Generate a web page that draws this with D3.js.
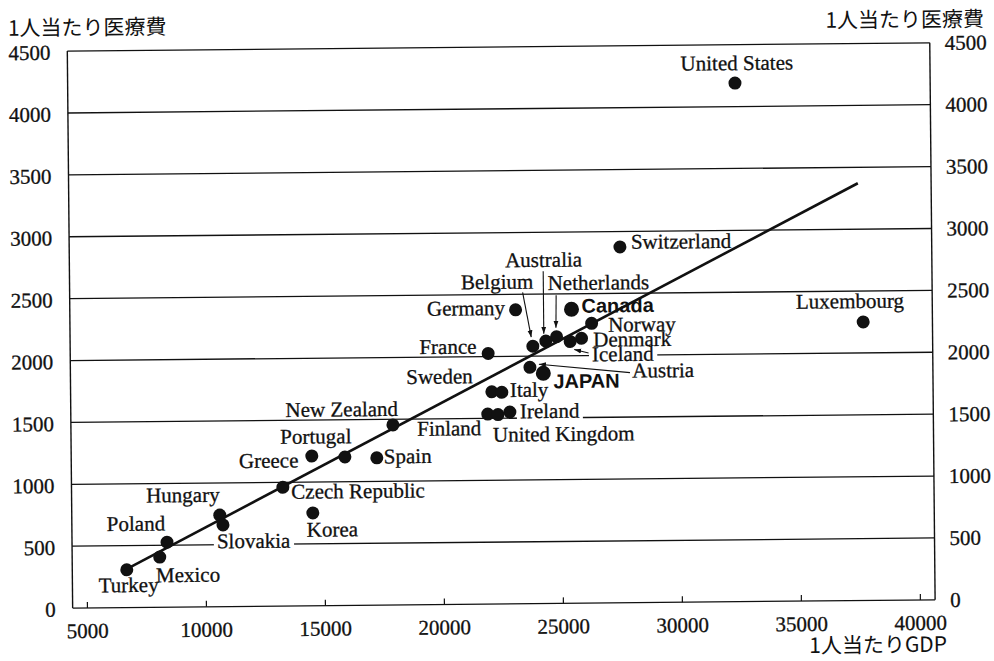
<!DOCTYPE html>
<html>
<head>
<meta charset="utf-8">
<script src="https://cdn.jsdelivr.net/npm/d3@7"></script>
<style>
  html, body { margin: 0; padding: 0; background: #fff; }
  svg { display: block; }
</style>
</head>
<body>
<svg id="chart" width="994" height="661"></svg>
<script>
// Per-capita GDP and per-capita health spending (US$ PPP), OECD countries
const countries = [
  "United States", "Switzerland", "Luxembourg", "Canada", "Germany", "Norway",
  "Netherlands", "Denmark", "Iceland", "Australia", "Belgium", "France",
  "Austria", "JAPAN", "Sweden", "Italy", "Ireland", "Finland", "United Kingdom",
  "New Zealand", "Portugal", "Spain", "Greece", "Czech Republic", "Korea",
  "Hungary", "Slovakia", "Poland", "Mexico", "Turkey"
];
const gdpPerCapita = [
  32440, 27540, 37730, 25480, 23130, 26320,
  24840, 25890, 25410, 24390, 23840, 21960,
  23710, 24270, 22100, 22520, 22850, 21920, 22350,
  17930, 15900, 17240, 14510, 13280, 14530,
  10620, 10750, 8390, 8080, 6690
];
const healthPerCapita = [
  4190, 2875, 2250, 2375, 2375, 2260,
  2155, 2140, 2115, 2120, 2080, 2025,
  1910, 1860, 1715, 1710, 1550, 1535, 1530,
  1455, 1200, 1190, 1210, 960, 750,
  740, 660, 525, 405, 305
];
const highlighted = ["Canada", "JAPAN"];

// Least-squares line through the points
const fitSlope = 0.0991;
const fitIntercept = -351;
const fitRange = [6600, 37560];

const yTicks = [0, 500, 1000, 1500, 2000, 2500, 3000, 3500, 4000, 4500];
const xTicks = [5000, 10000, 15000, 20000, 25000, 30000, 35000, 40000];
const yTitle = "1人当たり医療費";
const xTitle = "1人当たりGDP";

// Label placement relative to each dot (px): offset, anchor, leader line, knockout
const labelLayout = {
  "United States":  { dx: 2,     dy: -13,   anchor: "middle" },
  "Switzerland":    { dx: 11,    dy: 2,     anchor: "start" },
  "Luxembourg":     { dx: -13,   dy: -14,   anchor: "middle" },
  "Canada":         { dx: 10,    dy: 3.5,   anchor: "start" },
  "Germany":        { dx: -10.5, dy: 5,     anchor: "end" },
  "Norway":         { dx: 16.5,  dy: 8.5,   anchor: "start" },
  "Netherlands":    { dx: -8.4,  dy: -46.7, anchor: "start", leader: [0, -41.5, -0.5, -9] },
  "Denmark":        { dx: 11.6,  dy: 8.4,   anchor: "start" },
  "Iceland":        { dx: 21.7,  dy: 20,    anchor: "start", leader: [18.3, 11.6, 4, 8], knockout: true },
  "Australia":      { dx: -40,   dy: -74.3, anchor: "start", leader: [-2, -70, -2, -7.5] },
  "Belgium":        { dx: -71.3, dy: -57.7, anchor: "start", leader: [-9.7, -54, -1.5, -9] },
  "France":         { dx: -11.6, dy: 0,     anchor: "end" },
  "Austria":        { dx: 102.3, dy: 11.3,  anchor: "start", leader: [100, 6.3, 9, -3] },
  "JAPAN":          { dx: 10,    dy: 15,    anchor: "start" },
  "Sweden":         { dx: -19,   dy: -8.7,  anchor: "end" },
  "Italy":          { dx: 8,     dy: 4.7,   anchor: "start" },
  "Ireland":        { dx: 10,    dy: 6.3,   anchor: "start", knockout: true },
  "Finland":        { dx: -6.6,  dy: 21,    anchor: "end" },
  "United Kingdom": { dx: -5.3,  dy: 27,    anchor: "start" },
  "New Zealand":    { dx: 5.3,   dy: -9,    anchor: "end" },
  "Portugal":       { dx: 6.7,   dy: -13.7, anchor: "end" },
  "Spain":          { dx: 7,     dy: 5.6,   anchor: "start" },
  "Greece":         { dx: -13.4, dy: 11.3,  anchor: "end" },
  "Czech Republic": { dx: 8.4,   dy: 11.6,  anchor: "start" },
  "Korea":          { dx: -6.3,  dy: 23.7,  anchor: "start" },
  "Hungary":        { dx: 0,     dy: -13.3, anchor: "end" },
  "Slovakia":       { dx: -6.3,  dy: 23.3,  anchor: "start", knockout: true },
  "Poland":         { dx: -1.7,  dy: -11.7, anchor: "end" },
  "Mexico":         { dx: -4,    dy: 25,    anchor: "start" },
  "Turkey":         { dx: 1.7,   dy: 22.3,  anchor: "middle" }
};

const points = countries.map((name, i) => ({
  name, gdp: gdpPerCapita[i], cost: healthPerCapita[i],
  strong: highlighted.includes(name)
}));

const svg = d3.select("#chart");
const plot = { left: 70, right: 932.5, top: 47, bottom: 604 };

const x = d3.scaleLinear().domain([4400, 40640]).range([plot.left, plot.right]);
const y = d3.scaleLinear().domain([0, 4500]).range([plot.bottom, plot.top]);

const serif = "'Liberation Serif', 'Times New Roman', serif";
const sans = "'Liberation Sans', Arial, sans-serif";
const cjk = "'Noto Sans CJK JP', sans-serif";
const ink = "#111";

// Slightly heavier serif lettering
function heavy(sel) {
  return sel.attr("stroke", ink).attr("stroke-width", 0.3);
}

// The whole sheet sits at a slight tilt
const root = svg.append("g").attr("transform", "rotate(-0.55 497 330)");

// Horizontal grid lines at every tick
root.append("g").selectAll("line").data(yTicks).join("line")
  .attr("x1", plot.left).attr("x2", plot.right)
  .attr("y1", d => y(d)).attr("y2", d => y(d))
  .attr("stroke", ink).attr("stroke-width", 1.3);

// Left and right frame
root.append("g").selectAll("line").data([plot.left, plot.right]).join("line")
  .attr("x1", d => d).attr("x2", d => d)
  .attr("y1", plot.top).attr("y2", plot.bottom)
  .attr("stroke", ink).attr("stroke-width", 1.4);

// Bottom axis: inward ticks and labels
const xAxis = d3.axisBottom(x).tickValues(xTicks).tickSizeInner(-6).tickSizeOuter(0)
  .tickPadding(16).tickFormat(d3.format("d"));
const gx = root.append("g").attr("transform", `translate(0,${plot.bottom})`).call(xAxis);
gx.select(".domain").remove();
gx.selectAll(".tick line").attr("stroke", ink).attr("stroke-width", 1.2);
heavy(gx.selectAll(".tick text").attr("font-family", serif).attr("font-size", 21)
  .attr("fill", ink).attr("dy", null).attr("y", 30));

// Value labels on both sides
const yAxisL = d3.axisLeft(y).tickValues(yTicks).tickSize(0).tickPadding(17).tickFormat(d3.format("d"));
const gyl = root.append("g").attr("transform", `translate(${plot.left},0)`).call(yAxisL);
gyl.select(".domain").remove();
heavy(gyl.selectAll(".tick text").attr("font-family", serif).attr("font-size", 21)
  .attr("fill", ink).attr("dy", "0.38em"));

const yAxisR = d3.axisRight(y).tickValues(yTicks).tickSize(0).tickPadding(15).tickFormat(d3.format("d"));
const gyr = root.append("g").attr("transform", `translate(${plot.right},0)`).call(yAxisR);
gyr.select(".domain").remove();
heavy(gyr.selectAll(".tick text").attr("font-family", serif).attr("font-size", 21).attr("fill", ink));

// Axis titles
root.append("text").attr("x", 10.8).attr("y", 31).attr("font-family", cjk)
  .attr("font-size", 21).attr("fill", ink).text(yTitle);
root.append("text").attr("x", 987).attr("y", 31).attr("text-anchor", "end")
  .attr("font-family", cjk).attr("font-size", 21).attr("fill", ink).text(yTitle);
root.append("text").attr("x", 944).attr("y", 656).attr("text-anchor", "end")
  .attr("font-family", cjk).attr("font-size", 21).attr("fill", ink).text(xTitle);

// White knockouts behind labels that sit on a grid line
const knockLayer = root.append("g");

// Regression line
const fit = fitRange.map(g => ({ gdp: g, cost: fitIntercept + fitSlope * g }));
root.append("path").datum(fit)
  .attr("d", d3.line().x(d => x(d.gdp)).y(d => y(d.cost)))
  .attr("fill", "none").attr("stroke", ink).attr("stroke-width", 2.6);

// Leader arrows
const defs = svg.append("defs");
defs.append("marker").attr("id", "tip").attr("markerUnits", "userSpaceOnUse")
  .attr("markerWidth", 8).attr("markerHeight", 6).attr("refX", 7).attr("refY", 3)
  .attr("orient", "auto")
  .append("path").attr("d", "M0,0.5 L7,3 L0,5.5 Z").attr("fill", ink);

root.append("g").selectAll("line")
  .data(points.filter(p => labelLayout[p.name].leader))
  .join("line")
  .attr("x1", p => x(p.gdp) + labelLayout[p.name].leader[0])
  .attr("y1", p => y(p.cost) + labelLayout[p.name].leader[1])
  .attr("x2", p => x(p.gdp) + labelLayout[p.name].leader[2])
  .attr("y2", p => y(p.cost) + labelLayout[p.name].leader[3])
  .attr("stroke", ink).attr("stroke-width", 1.1).attr("marker-end", "url(#tip)");

// Country dots
root.append("g").selectAll("circle").data(points).join("circle")
  .attr("cx", p => x(p.gdp)).attr("cy", p => y(p.cost))
  .attr("r", p => p.strong ? 7.5 : 6.5)
  .attr("fill", ink);

// Country names
const labels = root.append("g").selectAll("text").data(points).join("text")
  .attr("x", p => x(p.gdp) + labelLayout[p.name].dx)
  .attr("y", p => y(p.cost) + labelLayout[p.name].dy)
  .attr("text-anchor", p => labelLayout[p.name].anchor)
  .attr("font-family", p => p.strong ? sans : serif)
  .attr("font-weight", p => p.strong ? "bold" : "normal")
  .attr("font-size", p => p.strong ? 20 : 21)
  .attr("fill", ink)
  .attr("stroke", p => p.strong ? "none" : ink)
  .attr("stroke-width", 0.3)
  .text(p => p.name);

labels.filter(p => labelLayout[p.name].knockout).each(function () {
  const b = this.getBBox();
  knockLayer.append("rect")
    .attr("x", b.x - 3).attr("y", b.y)
    .attr("width", b.width + 6).attr("height", b.height)
    .attr("fill", "#fff");
});
</script>
</body>
</html>
